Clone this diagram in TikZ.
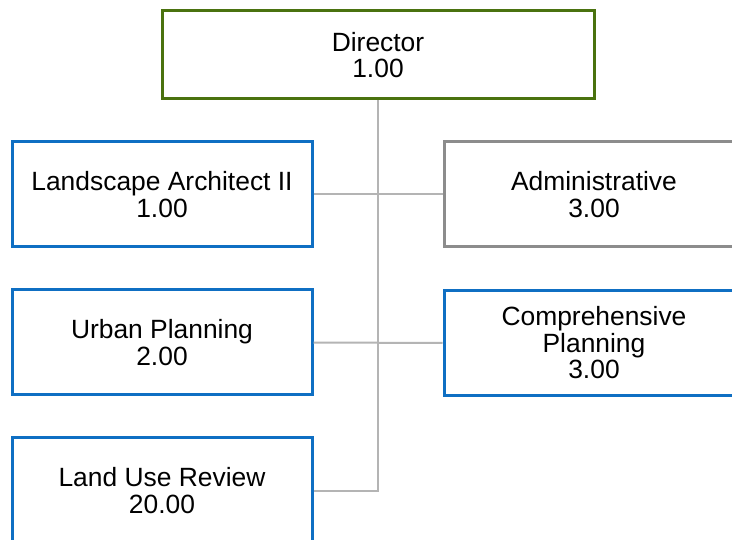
\documentclass[tikz,border=0pt]{standalone}
\usepackage{fontspec}
\setmainfont{Liberation Sans}
\definecolor{dirgreen}{HTML}{4A720F}
\definecolor{boxblue}{HTML}{0F6FC3}
\definecolor{boxgrey}{HTML}{8C8C8C}
\definecolor{linkgrey}{HTML}{B4B4B4}
\tikzset{
  orgbox/.style={draw, line width=3pt, fill=white, rectangle, align=center,
    inner sep=0pt, minimum width=300pt, minimum height=105pt,
    font=\fontsize{26.4}{26.5}\selectfont},
  bluebox/.style={orgbox, draw=boxblue},
  greybox/.style={orgbox, draw=boxgrey},
  greenbox/.style={orgbox, draw=dirgreen, minimum width=432pt, minimum height=88pt},
  link/.style={draw=linkgrey, line width=2pt}
}
\begin{document}
\begin{tikzpicture}[x=1pt,y=1pt]
\useasboundingbox (0,0) rectangle (732,-540);
\clip (0,0) rectangle (732,-540);
\fill[white] (0,0) rectangle (732,-540);
% connectors first
\coordinate (vtop) at (378,-100);
\node[greenbox] (dir) at (378,-55) {Director\\1.00};
\node[bluebox] (la) at (162,-194.5) {Landscape Architect II\\1.00};
\node[greybox] (adm) at (594,-194.5) {Administrative\\3.00};
\node[bluebox] (up) at (162,-342.5) {Urban Planning\\2.00};
\node[bluebox] (cp) at (594,-343) {Comprehensive\\Planning\\3.00};
\node[bluebox] (lur) at (162,-490.5) {Land Use Review\\20.00};
\begin{scope}[on background layer/.try]
\end{scope}
\draw[link] (dir.south) |- (lur.east);
\draw[link] (la.east) -- (adm.west);
\draw[link] (up.east) -- (cp.west);
\end{tikzpicture}
\end{document}
